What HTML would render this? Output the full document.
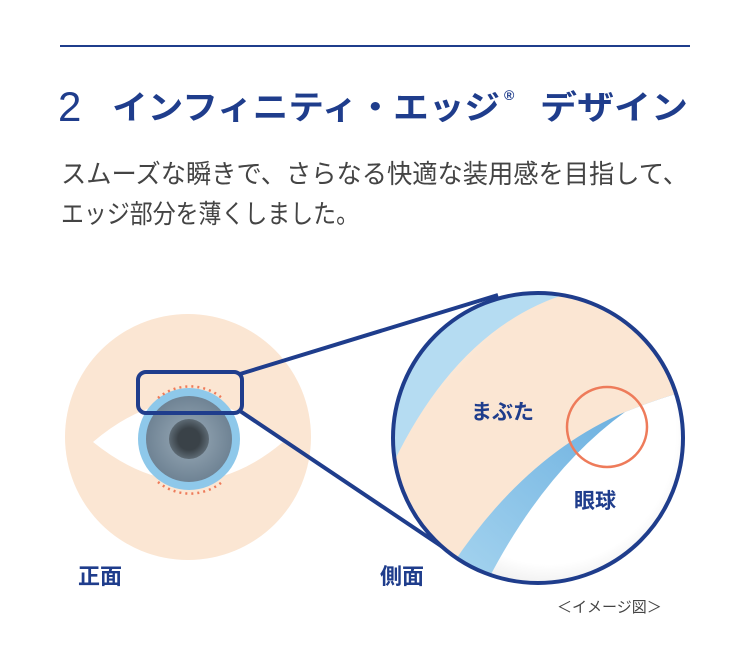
<!DOCTYPE html>
<html><head><meta charset="utf-8"><style>
html,body{margin:0;padding:0;background:#fff;}
svg{display:block;}
text{font-family:"Liberation Sans","Noto Sans CJK JP",sans-serif;}
</style></head><body>
<svg width="750" height="671" viewBox="0 0 750 671" xmlns="http://www.w3.org/2000/svg">
<defs>
<clipPath id="bc"><circle cx="538" cy="438" r="145"/></clipPath>
<radialGradient id="iris" cx="0.5" cy="0.5" r="0.5"><stop offset="0" stop-color="#9aabb8"/><stop offset="1" stop-color="#6f8394"/></radialGradient>
<radialGradient id="pupil" cx="0.5" cy="0.5" r="0.5"><stop offset="0.55" stop-color="#3a4248"/><stop offset="1" stop-color="#5d6a74"/></radialGradient>
<linearGradient id="peach" x1="0" y1="0" x2="1" y2="1"><stop offset="0" stop-color="#ffffff"/><stop offset="0.25" stop-color="#fbe6d3"/><stop offset="1" stop-color="#fbe6d3"/></linearGradient>
<linearGradient id="blue" x1="0" y1="1" x2="1" y2="0"><stop offset="0" stop-color="#a9d6f0"/><stop offset="1" stop-color="#5fa8dc"/></linearGradient>
<radialGradient id="wg" cx="0.3" cy="0.2" r="0.9"><stop offset="0.7" stop-color="#ffffff"/><stop offset="1" stop-color="#d8d8d8"/></radialGradient>
</defs>
<line x1="60" y1="46" x2="690" y2="46" stroke="#1f3d8c" stroke-width="2"/>
<text x="58" y="121" font-size="42" fill="#1f3d8c">2</text>
<text x="112" y="119" font-size="33" font-weight="bold" fill="#1f3d8c" textLength="388" lengthAdjust="spacingAndGlyphs">インフィニティ・エッジ</text>
<text x="504" y="100" font-size="14" font-weight="bold" fill="#1f3d8c">®</text>
<text x="540" y="119" font-size="33" font-weight="bold" fill="#1f3d8c" textLength="148" lengthAdjust="spacingAndGlyphs">デザイン</text>
<text x="61" y="183" font-size="26" fill="#444" textLength="627" lengthAdjust="spacingAndGlyphs">スムーズな瞬きで、さらなる快適な装用感を目指して、</text>
<text x="61" y="223" font-size="26" fill="#444" textLength="298" lengthAdjust="spacingAndGlyphs">エッジ部分を薄くしました。</text>
<circle cx="188" cy="437" r="123" fill="#fbe6d3"/>
<path d="M93,442 Q190,360 283,442 Q190,520 93,442 Z" fill="#fff"/>
<circle cx="189" cy="439" r="51" fill="#8ec8ea"/>
<circle cx="189" cy="439" r="43" fill="url(#iris)"/>
<circle cx="189" cy="439" r="20" fill="url(#pupil)"/>
<path d="M158,398 A50,50 0 0 1 222,398" fill="none" stroke="#ee7b5a" stroke-width="2.5" stroke-dasharray="2 4"/>
<path d="M158,482 A50,50 0 0 0 222,482" fill="none" stroke="#ee7b5a" stroke-width="2.5" stroke-dasharray="2 4"/>
<rect x="138" y="372" width="104" height="41" rx="8" fill="none" stroke="#1f3d8c" stroke-width="4"/>
<line x1="240" y1="374" x2="498" y2="295" stroke="#1f3d8c" stroke-width="4"/>
<line x1="240" y1="411" x2="462" y2="560" stroke="#1f3d8c" stroke-width="4"/>
<g clip-path="url(#bc)">
<rect x="390" y="290" width="300" height="300" fill="#b5dcf2"/>
<path d="M390,470 Q460,320 580,290 L690,290 L690,600 L390,600 Z" fill="url(#peach)"/>
<path d="M452,565 Q525,455 625,412 Q660,398 690,390 L690,600 L452,600 Z" fill="url(#blue)"/>
<path d="M488,580 Q545,470 625,412 Q660,398 690,390 L690,600 L488,600 Z" fill="url(#wg)"/>
</g>
<circle cx="538" cy="438" r="145" fill="none" stroke="#1f3d8c" stroke-width="4"/>
<circle cx="607" cy="427" r="40" fill="none" stroke="#ee7b5a" stroke-width="2.5"/>
<text x="471" y="419" font-size="21" font-weight="bold" fill="#1f3d8c">まぶた</text>
<text x="574" y="508" font-size="21" font-weight="bold" fill="#1f3d8c">眼球</text>
<text x="78" y="584" font-size="22" font-weight="bold" fill="#1f3d8c">正面</text>
<text x="380" y="584" font-size="22" font-weight="bold" fill="#1f3d8c">側面</text>
<text x="557" y="612" font-size="15" fill="#444">＜イメージ図＞</text>
</svg>
</body></html>
